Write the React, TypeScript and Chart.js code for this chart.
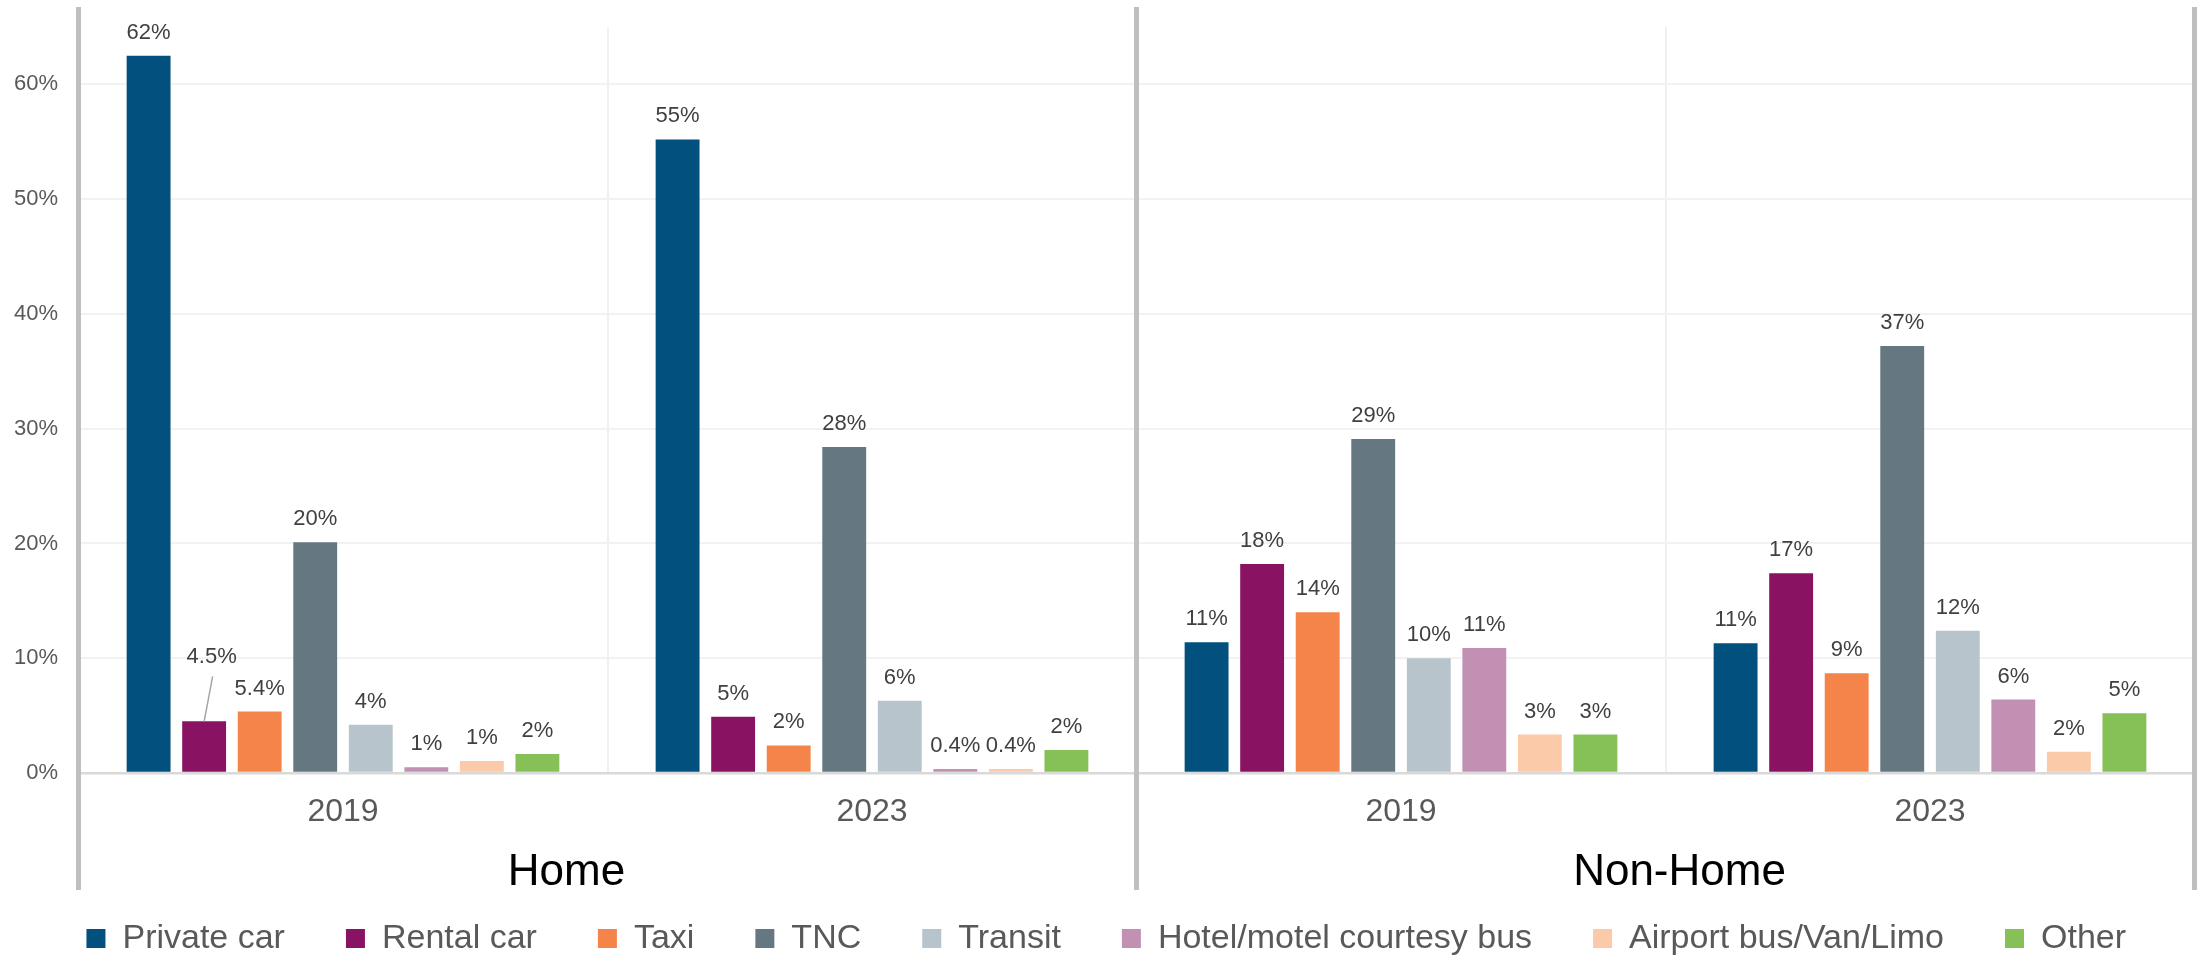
import React, { useEffect, useRef } from 'react';
import { Chart, registerables } from 'chart.js';

Chart.register(...registerables);

const W = 2207;
const H = 958;
const FONT = "'Liberation Sans', Arial, Helvetica, sans-serif";

// ---- data ----
const categories = ['2019', '2023', '2019', '2023'];
const groups = ['Home', 'Non-Home'];

const seriesNames = [
  'Private car',
  'Rental car',
  'Taxi',
  'TNC',
  'Transit',
  'Hotel/motel courtesy bus',
  'Airport bus/Van/Limo',
  'Other',
];

const privateCar = [62.5, 55.2, 11.4, 11.3];
const rentalCar = [4.5, 4.9, 18.2, 17.4];
const taxi = [5.35, 2.4, 14.0, 8.7];
const tnc = [20.1, 28.4, 29.1, 37.2];
const transit = [4.2, 6.3, 10.0, 12.4];
const hotelBus = [0.5, 0.35, 10.9, 6.4];
const airportBus = [1.05, 0.35, 3.35, 1.85];
const other = [1.65, 2.0, 3.35, 5.2];

const privateCarLabels = ['62%', '55%', '11%', '11%'];
const rentalCarLabels = ['4.5%', '5%', '18%', '17%'];
const taxiLabels = ['5.4%', '2%', '14%', '9%'];
const tncLabels = ['20%', '28%', '29%', '37%'];
const transitLabels = ['4%', '6%', '10%', '12%'];
const hotelBusLabels = ['1%', '0.4%', '11%', '6%'];
const airportBusLabels = ['1%', '0.4%', '3%', '2%'];
const otherLabels = ['2%', '2%', '3%', '5%'];

const yTicks = [0, 10, 20, 30, 40, 50, 60];

const seriesValues = [privateCar, rentalCar, taxi, tnc, transit, hotelBus, airportBus, other];
const seriesLabels = [
  privateCarLabels,
  rentalCarLabels,
  taxiLabels,
  tncLabels,
  transitLabels,
  hotelBusLabels,
  airportBusLabels,
  otherLabels,
];
const seriesColors = [
  '#01507D',
  '#8A1263',
  '#F5844A',
  '#657881',
  '#B8C4CB',
  '#C190B3',
  '#FBCAA8',
  '#86C157',
];

// the one label moved off its bar with a leader line (dataset, index)
const callout = { dataset: 1, index: 0, dx: 7.5, dy: -41 };
const groupLabelShift = [-41, 14];
const legendShift = 18;

const overlayPlugin = {
  id: 'overlay',
  afterLayout(chart: any) {
    if (chart.legend) {
      chart.legend.left += legendShift;
    }
  },
  afterDatasetsDraw(chart: any) {
    const ctx = chart.ctx;
    ctx.save();
    ctx.font = `22px ${FONT}`;
    ctx.fillStyle = '#404040';
    ctx.textAlign = 'center';
    ctx.textBaseline = 'alphabetic';
    chart.data.datasets.forEach((ds: any, di: number) => {
      const meta = chart.getDatasetMeta(di);
      meta.data.forEach((bar: any, i: number) => {
        const txt = seriesLabels[di][i];
        if (di === callout.dataset && i === callout.index) {
          const lx = bar.x + callout.dx;
          const ly = bar.y - 17 + callout.dy;
          ctx.fillText(txt, lx, ly);
          ctx.save();
          ctx.strokeStyle = '#A6A6A6';
          ctx.lineWidth = 1.5;
          ctx.beginPath();
          ctx.moveTo(lx + 1, ly + 13);
          ctx.lineTo(bar.x, bar.y);
          ctx.stroke();
          ctx.restore();
        } else {
          ctx.fillText(txt, bar.x, bar.y - 17);
        }
      });
    });
    ctx.restore();
  },
  afterDraw(chart: any) {
    const ctx = chart.ctx;
    const area = chart.chartArea;
    const xs = chart.scales.x;
    const mid = (xs.getPixelForValue(1) + xs.getPixelForValue(2)) / 2;
    ctx.save();
    ctx.strokeStyle = '#BFBFBF';
    ctx.lineWidth = 5;
    [area.left, mid, area.right].forEach((x) => {
      ctx.beginPath();
      ctx.moveTo(x, 7);
      ctx.lineTo(x, 890);
      ctx.stroke();
    });
    // group labels
    ctx.font = `44px ${FONT}`;
    ctx.fillStyle = '#000000';
    ctx.textAlign = 'center';
    ctx.textBaseline = 'alphabetic';
    const centers = [(area.left + mid) / 2, (mid + area.right) / 2];
    groups.forEach((g, i) => {
      ctx.fillText(g, centers[i] + groupLabelShift[i], 885);
    });
    ctx.restore();
  },
};

export default function App() {
  const ref = useRef<HTMLCanvasElement>(null);

  useEffect(() => {
    if (!ref.current) return;
    const datasets = seriesNames.map((name, i) => ({
      label: name,
      data: seriesValues[i],
      backgroundColor: seriesColors[i],
      borderWidth: 0,
      barPercentage: 0.79,
      categoryPercentage: 0.84,
    }));

    const chart = new Chart(ref.current, {
      type: 'bar',
      data: { labels: categories, datasets },
      options: {
        responsive: false,
        maintainAspectRatio: false,
        animation: false,
        devicePixelRatio: 1,
        layout: { padding: { left: 0, right: 12.5, top: 27, bottom: -7.5 } },
        scales: {
          x: {
            offset: true,
            grid: {
              offset: true,
              drawTicks: false,
              lineWidth: 2,
              color: (c: any) => (c.index === 1 || c.index === 3 ? '#F0F0F0' : 'rgba(0,0,0,0)'),
            },
            border: { display: false },
            ticks: {
              font: { size: 32, family: FONT },
              color: '#595959',
              padding: 20,
              maxRotation: 0,
            },
            afterFit: (s: any) => {
              s.height = 87.5;
              s.paddingLeft = 0;
              s.paddingRight = 0;
            },
          },
          y: {
            min: 0,
            max: 65,
            afterBuildTicks: (s: any) => {
              s.ticks = yTicks.map((v) => ({ value: v }));
            },
            ticks: {
              callback: (v: any) => `${v}%`,
              font: { size: 22, family: FONT },
              color: '#595959',
              padding: 20.5,
            },
            grid: {
              drawTicks: false,
              color: (c: any) => (c.tick && c.tick.value === 0 ? '#D9D9D9' : '#F2F2F2'),
              lineWidth: (c: any) => (c.tick && c.tick.value === 0 ? 2.5 : 2),
            },
            border: { display: false },
            afterFit: (s: any) => {
              s.width = 78.5;
              s.paddingTop = 0;
              s.paddingBottom = 0;
            },
          },
        },
        plugins: {
          legend: {
            position: 'bottom',
            labels: {
              boxWidth: 19,
              boxHeight: 19,
              padding: 61,
              font: { size: 34, family: FONT },
              color: '#595959',
            },
          },
          tooltip: { enabled: false },
        },
      } as any,
      plugins: [overlayPlugin],
    });
    return () => chart.destroy();
  }, []);

  return (
    <div style={{ position: 'fixed', left: 0, top: 0, width: W, height: H, background: '#ffffff' }}>
      <canvas ref={ref} width={W} height={H} style={{ width: W, height: H, display: 'block' }} />
    </div>
  );
}
